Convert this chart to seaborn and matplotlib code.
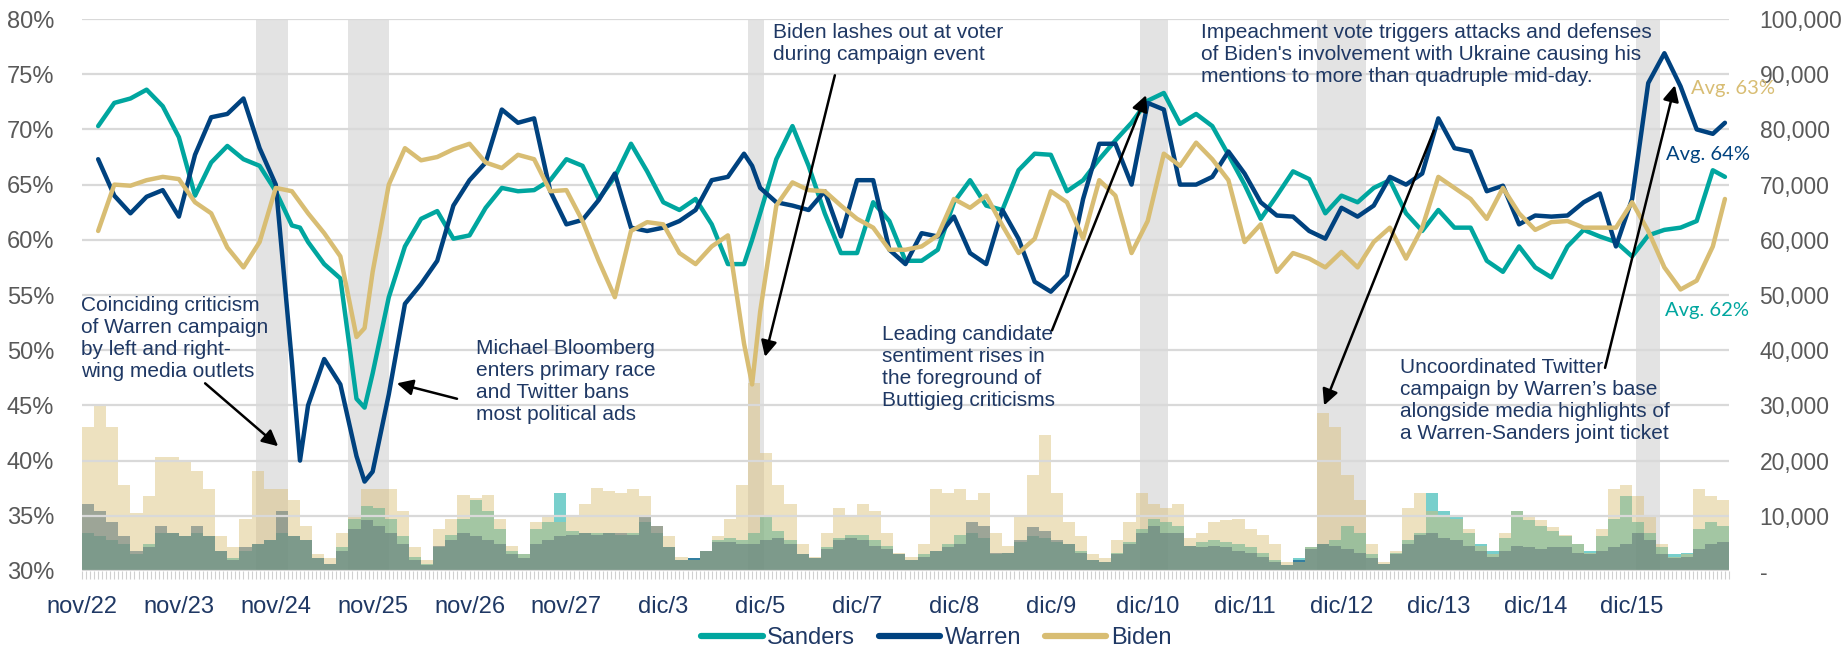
# Sentiment (lines, left axis) and hourly mentions (bars, right axis)
# for Sanders, Warren and Biden, nov/22 - dic/15

import numpy as np
import pandas as pd
import matplotlib
matplotlib.use('Agg')
import matplotlib.pyplot as plt
from matplotlib.ticker import FuncFormatter
from matplotlib.lines import Line2D
import seaborn as sns

# -----------------------------------------------------------
# DATA
# -----------------------------------------------------------

day_labels = ['nov/22', 'nov/23', 'nov/24', 'nov/25', 'nov/26', 'nov/27',
              'dic/3', 'dic/5', 'dic/7', 'dic/8', 'dic/9', 'dic/10',
              'dic/11', 'dic/12', 'dic/13', 'dic/14', 'dic/15']

# highlighted hour windows
shade_start = [43, 66, 165, 262, 306, 385]
shade_end = [51, 76, 169, 269, 318, 391]

# sentiment (% positive), hour of the sample
hours = [4, 8, 12, 16, 20, 24, 28, 32, 36, 40, 44, 48, 52, 54, 56, 60, 64, 68, 70,
         72, 76, 80, 84, 88, 92, 96, 100, 104, 108, 112, 116, 120, 124, 128, 132,
         136, 140, 144, 148, 152, 156, 160, 164, 166, 168, 172, 176, 180, 184, 188,
         192, 196, 200, 204, 208, 212, 216, 220, 224, 228, 232, 236, 240, 244, 248,
         252, 256, 260, 264, 268, 272, 276, 280, 284, 288, 292, 296, 300, 304, 308,
         312, 316, 320, 324, 328, 332, 336, 340, 344, 348, 352, 356, 360, 364, 368,
         372, 376, 380, 384, 388, 392, 396, 400, 404, 407]

sanders_pct = [70.3, 72.4, 72.8, 73.6, 72.1, 69.3, 64.0, 67.0, 68.5, 67.3, 66.7, 64.4,
               61.3, 61.1, 59.8, 57.8, 56.5, 45.6, 44.8, 47.9, 54.8, 59.4, 61.9, 62.6,
               60.1, 60.4, 62.9, 64.7, 64.4, 64.5, 65.4, 67.3, 66.7, 63.7, 65.7, 68.7,
               66.2, 63.4, 62.7, 63.7, 61.4, 57.8, 57.8, 60.0, 62.4, 67.3, 70.3, 66.7,
               62.4, 58.8, 58.8, 63.4, 61.7, 58.1, 58.1, 59.1, 63.4, 65.4, 63.1, 62.7,
               66.3, 67.8, 67.7, 64.4, 65.4, 67.3, 69.0, 70.6, 72.6, 73.3, 70.5, 71.4,
               70.3, 67.7, 65.0, 61.9, 64.0, 66.2, 65.5, 62.4, 64.0, 63.4, 64.7, 65.4,
               62.4, 60.8, 62.7, 61.1, 61.1, 58.1, 57.1, 59.4, 57.5, 56.6, 59.4, 60.9,
               60.3, 59.8, 58.5, 60.4, 60.9, 61.1, 61.7, 66.3, 65.7]

warren_pct = [67.3, 64.0, 62.4, 63.9, 64.5, 62.1, 67.7, 71.1, 71.4, 72.8, 68.3, 65.0,
              48.9, 40.0, 45.0, 49.2, 46.9, 40.4, 38.1, 39.0, 46.0, 54.2, 56.0, 58.1,
              63.1, 65.4, 67.0, 71.8, 70.6, 71.0, 64.4, 61.4, 61.8, 63.6, 66.0, 61.1,
              60.8, 61.1, 61.7, 62.7, 65.4, 65.7, 67.8, 66.7, 64.7, 63.4, 63.1, 62.7,
              64.4, 60.3, 65.4, 65.4, 59.1, 57.8, 60.6, 60.3, 62.1, 58.8, 57.8, 62.7,
              60.1, 56.2, 55.3, 56.8, 63.7, 68.7, 68.7, 65.0, 72.4, 71.8, 65.0, 65.0,
              65.7, 68.0, 66.0, 63.4, 62.2, 62.1, 60.8, 60.1, 62.9, 62.1, 63.1, 65.7,
              65.0, 66.0, 71.0, 68.3, 68.0, 64.4, 64.9, 61.4, 62.2, 62.1, 62.2, 63.4,
              64.2, 59.4, 63.7, 74.2, 76.9, 73.9, 70.0, 69.6, 70.6]

biden_pct = [60.8, 65.0, 64.9, 65.4, 65.7, 65.5, 63.4, 62.4, 59.3, 57.5, 59.8, 64.7,
             64.4, 63.4, 62.4, 60.6, 58.5, 51.2, 52.0, 57.1, 65.0, 68.3, 67.2, 67.5,
             68.2, 68.7, 67.0, 66.5, 67.7, 67.3, 64.4, 64.5, 61.7, 58.1, 54.8, 60.8,
             61.6, 61.4, 58.8, 57.8, 59.4, 60.4, 50.6, 46.9, 53.5, 63.1, 65.2, 64.5,
             64.4, 63.1, 61.9, 61.1, 59.1, 59.1, 59.4, 60.4, 63.7, 62.9, 64.0, 61.3,
             58.8, 60.1, 64.4, 63.4, 60.1, 65.4, 64.0, 58.8, 61.7, 67.8, 66.7, 68.8,
             67.3, 65.4, 59.8, 61.4, 57.1, 58.8, 58.3, 57.5, 58.9, 57.5, 59.8, 61.1,
             58.3, 61.1, 65.7, 64.7, 63.7, 61.9, 64.7, 62.4, 60.9, 61.6, 61.7, 61.1,
             61.1, 61.1, 63.4, 60.8, 57.5, 55.5, 56.3, 59.4, 63.7]

# mentions per 3-hour block
block_hours = 3

sanders_mentions = [6900, 6300, 5600, 4900, 3000, 4900, 6900, 6900, 6300, 6900, 6300, 3600,
                    2300, 3600, 4900, 5600, 6900, 6300, 5600, 2300, 1300, 4300, 9500,
                    11800, 11500, 9500, 6300, 2600, 1300, 4300, 6600, 9500, 12800, 10900,
                    7600, 3600, 3000, 7600, 8900, 14100, 7200, 6900, 6900, 6900, 6600, 6900,
                    8900, 6900, 4300, 2000, 2300, 3600, 5600, 5900, 5600, 6900, 10200,
                    7200, 5600, 3000, 2300, 4300, 5900, 6600, 6600, 5600, 4600, 3000,
                    2000, 3000, 3600, 4900, 6600, 6900, 5900, 3000, 3300, 5300, 6300, 5900,
                    5300, 4900, 3600, 2000, 1600, 3300, 5300, 7600, 9500, 8900, 8200,
                    4600, 5300, 5600, 5300, 4900, 4300, 3300, 2000, 1000, 2300, 4300, 4900,
                    5600, 8200, 6900, 3000, 1300, 3300, 5600, 6900, 14100, 10900, 10200,
                    6900, 4900, 3600, 5900, 10900, 9200, 8200, 7200, 6300, 4900, 3600,
                    6300, 9500, 13500, 8900, 6900, 4300, 3000, 3300, 7600, 8900, 8200]

warren_mentions = [12200, 10900, 8900, 6300, 3600, 4300, 8200, 6900, 6300, 8200, 6300, 3600,
                   2000, 4300, 4900, 5600, 10900, 6300, 5600, 2300, 1300, 3600, 7600,
                   9200, 8200, 6900, 4900, 2000, 1000, 4600, 5600, 6900, 6300, 5600, 4900,
                   3000, 2300, 4900, 5600, 6300, 6600, 6900, 6600, 6900, 6900, 6600,
                   10200, 8200, 4300, 2000, 2300, 3600, 5300, 5300, 4900, 4900, 5600, 5900,
                   4900, 3000, 2300, 3900, 5600, 5900, 5600, 4600, 3900, 3000,
                   2000, 2600, 3600, 4300, 4900, 8900, 8200, 3300, 3300, 5600, 7900, 7200,
                   5600, 4900, 3300, 2000, 1600, 3000, 4900, 6900, 8200, 6900, 6900,
                   4600, 4300, 4600, 4300, 3600, 3300, 2600, 1600, 1000, 2000, 3900, 4900,
                   4600, 3900, 3300, 2300, 1300, 3000, 4900, 6600, 6900, 5900, 5600,
                   4600, 3600, 2600, 3600, 4600, 4300, 3900, 4300, 4300, 3300, 3000, 3600,
                   4300, 4900, 6900, 5600, 3000, 2300, 2600, 3900, 4900, 5300]

biden_mentions = [26000, 29900, 26000, 15500, 10500, 13500, 20700, 20700, 19700, 18100, 14800,
                  6300, 4300, 9500, 18100, 14800, 14800, 12800, 8200, 3000, 2300, 6900,
                  10200, 14800, 14800, 14800, 10900, 4300, 2000, 7600, 9500, 13800, 13200,
                  13800, 9500, 4600, 3000, 8900, 10200, 8900, 10200, 12200, 15100, 14500,
                  14100, 14800, 13500, 8200, 6300, 2600, 2000, 3600, 6300, 9500, 15500,
                  34000, 21400, 15500, 12200, 4900, 2600, 6900, 11500, 10200, 12200, 10900,
                  6900, 3300, 2600, 4900, 14800, 14100, 14800, 12800, 14100, 6900, 4600,
                  10200, 17400, 24700, 14100, 8900, 6300, 3000, 2300, 5600, 8900, 14100,
                  12200, 11500, 12200, 5900, 6900, 8900, 9200, 9500, 7600, 6600, 4900,
                  1600, 1600, 4300, 28600, 26000, 17400, 12800, 4900, 1600, 3600, 11500,
                  14100, 10900, 10200, 9500, 7600, 4600, 3000, 6900, 10900, 9900, 9200,
                  7900, 6600, 4900, 3300, 7600, 14800, 15500, 13500, 10200, 4900, 2600,
                  3000, 14800, 13500, 12800]

avg_labels = {'Biden': 'Avg. 63%', 'Warren': 'Avg. 64%', 'Sanders': 'Avg. 62%'}

# -----------------------------------------------------------
# STYLE
# -----------------------------------------------------------

sns.set_theme(style='white')
plt.rcParams['font.family'] = ['Liberation Sans', 'DejaVu Sans']

colors = {'Sanders': '#00A69F', 'Warren': '#00427F', 'Biden': '#D8BD73'}
navy = '#1F3864'
gray_txt = '#595959'

# long table for seaborn
lines_df = pd.concat([
    pd.DataFrame({'hour': hours, 'pct': sanders_pct, 'who': 'Sanders'}),
    pd.DataFrame({'hour': hours, 'pct': warren_pct, 'who': 'Warren'}),
    pd.DataFrame({'hour': hours, 'pct': biden_pct, 'who': 'Biden'}),
])

n_hours = 24 * len(day_labels)
block_x = np.arange(len(biden_mentions)) * block_hours + block_hours / 2

# -----------------------------------------------------------
# FIGURE
# -----------------------------------------------------------

fig = plt.figure(figsize=(18.47, 6.51), dpi=100)
ax = fig.add_axes([0.0444, 0.1229, 0.8917, 0.8479])
ax2 = ax.twinx()

# bars + shaded windows on the right axis (drawn below the lines)
for s, e in zip(shade_start, shade_end):
    ax2.axvspan(s, e, color='#E3E3E3', zorder=0, lw=0)
ax2.bar(block_x, sanders_mentions, width=block_hours, color=colors['Sanders'],
        alpha=0.53, linewidth=0, zorder=1)
ax2.bar(block_x, warren_mentions, width=block_hours, color=colors['Warren'],
        alpha=0.57, linewidth=0, zorder=1)
ax2.bar(block_x, biden_mentions, width=block_hours, color=colors['Biden'],
        alpha=0.45, linewidth=0, zorder=1)

ax.set_zorder(ax2.get_zorder() + 1)
ax.patch.set_visible(False)

sns.lineplot(data=lines_df, x='hour', y='pct', hue='who', palette=colors,
             linewidth=3.2, sort=False, estimator=None, legend=False, ax=ax, zorder=3)

# axes
ax.set_xlim(0, n_hours)
ax.set_ylim(30, 80)
ax2.set_ylim(0, 100000)
ax.set_yticks(np.arange(30, 81, 5))
ax2.set_yticks(np.arange(0, 100001, 10000))
ax.yaxis.set_major_formatter(FuncFormatter(lambda v, p: f'{v:.0f}%'))
ax2.yaxis.set_major_formatter(FuncFormatter(lambda v, p: '-' if v == 0 else f'{v:,.0f}'))

ax.set_xticks(np.arange(len(day_labels)) * 24)
ax.set_xticklabels(day_labels)
ax.set_xticks(np.arange(0, n_hours + 1), minor=True)
ax.tick_params(axis='x', which='both', length=6, width=0.8, color='#D0D0D0',
               labelsize=17, labelcolor=navy, pad=12, bottom=True)
ax.tick_params(axis='y', length=0, labelsize=17, labelcolor=gray_txt, pad=20)
ax2.tick_params(axis='y', length=0, labelsize=16.5, labelcolor=gray_txt, pad=22)

ax.grid(axis='y', color='#D9D9D9', linewidth=1.6)
ax.grid(axis='x', visible=False)
ax.set_axisbelow(True)
ax.set_xlabel('')
ax.set_ylabel('')
for a in (ax, ax2):
    for sp in a.spines.values():
        sp.set_visible(False)

# annotations: text, text anchor (hour, %), arrow tail, arrow head
notes = [
    ('Coinciding criticism\nof Warren campaign\nby left and right-\nwing media outlets',
     (-0.3, 54.9), (30.5, 47.0), (48.6, 41.3)),
    ('Michael Bloomberg\nenters primary race\nand Twitter bans\nmost political ads',
     (97.6, 51.0), (92.9, 45.6), (78.0, 47.0)),
    ('Biden lashes out at voter\nduring campaign event',
     (171.2, 79.6), (186.5, 74.9), (169.2, 49.4)),
    ('Leading candidate\nsentiment rises in\nthe foreground of\nButtigieg criticisms',
     (198.2, 52.3), (240.3, 51.8), (263.6, 73.1)),
    ("Impeachment vote triggers attacks and defenses\nof Biden's involvement with Ukraine causing his\nmentions to more than quadruple mid-day.",
     (277.2, 79.6), (334.9, 69.9), (307.7, 45.0)),
    ('Uncoordinated Twitter\ncampaign by Warren\u2019s base\nalongside media highlights of\na Warren-Sanders joint ticket',
     (326.5, 49.3), (377.3, 48.4), (394.6, 74.0)),
]
for txt, pos, tail, head in notes:
    ax.text(pos[0], pos[1], txt, ha='left', va='top', fontsize=15, color=navy,
            linespacing=1.2, zorder=4)
    ax.annotate('', xy=head, xytext=tail,
                arrowprops=dict(arrowstyle='-|>', color='black', lw=1.8,
                                mutation_scale=24, shrinkA=0, shrinkB=0),
                zorder=5)

# average labels at the right end
avg_pos = {'Biden': (398.6, 73.7), 'Warren': (392.4, 67.7), 'Sanders': (392.1, 53.6)}
for who, label in avg_labels.items():
    ax.text(avg_pos[who][0], avg_pos[who][1], label, ha='left', va='center',
            fontsize=14.5, color=colors[who], family=['Lato', 'DejaVu Sans'], zorder=4)

# legend
handles = [Line2D([0], [0], color=colors[w], lw=4.5) for w in ['Sanders', 'Warren', 'Biden']]
leg = fig.legend(handles, ['Sanders', 'Warren', 'Biden'], loc='center',
                 bbox_to_anchor=(0.507, 0.02), ncol=3, frameon=False, fontsize=17,
                 handlelength=2.6, handletextpad=0.2, columnspacing=1.0)
for t in leg.get_texts():
    t.set_color(navy)

fig.savefig('out.png', dpi=100)
